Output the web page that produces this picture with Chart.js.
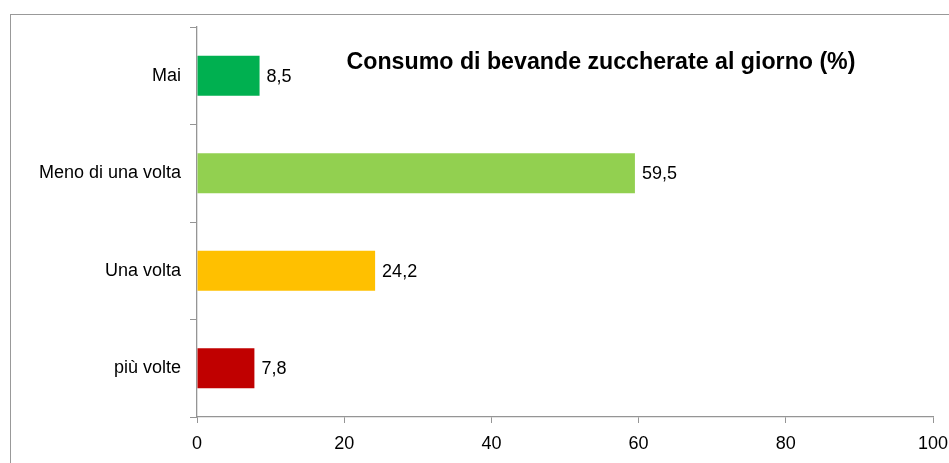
<!DOCTYPE html>
<html lang="it">
<head>
  <meta charset="UTF-8">
  <title>Consumo di bevande zuccherate al giorno</title>
  <script src="https://cdn.jsdelivr.net/npm/chart.js"></script>
  <style>
    html, body { margin: 0; padding: 0; background: #fff; overflow: hidden; }
    .wrap { position: relative; width: 949px; height: 463px; }
    .frame { position: absolute; left: 10px; top: 14px; width: 1000px; height: 600px; border: 1px solid #999; }
    canvas { position: absolute; left: 0; top: 0; }
  </style>
</head>
<body>
<div class="wrap">
  <div class="frame"></div>
  <canvas id="chart" width="949" height="463"></canvas>
</div>
<script>
const categories = ["Mai", "Meno di una volta", "Una volta", "più volte"];
const values = [8.5, 59.5, 24.2, 7.8];
const barColors = ["#00b050", "#92d050", "#ffc000", "#c00000"];
const titleText = "Consumo di bevande zuccherate al giorno (%)";

const FONT = "'Liberation Sans', Arial, sans-serif";
const AXIS = "#959595";

// etichette dei valori a destra delle barre + titolo dentro l'area
const labelsPlugin = {
  id: "valueLabels",
  afterDatasetsDraw(chart) {
    const ctx = chart.ctx;
    const meta = chart.getDatasetMeta(0);
    ctx.save();
    ctx.font = "18px " + FONT;
    ctx.fillStyle = "#000";
    ctx.textAlign = "left";
    ctx.textBaseline = "middle";
    meta.data.forEach((bar, i) => {
      ctx.fillText(values[i].toFixed(1).replace(".", ","), bar.x + 7, bar.y + 1);
    });
    const area = chart.chartArea;
    ctx.font = "bold 23.2px " + FONT;
    ctx.textAlign = "center";
    ctx.textBaseline = "alphabetic";
    ctx.fillText(titleText, area.left + 404, area.top + 42);
    ctx.restore();
  }
};

new Chart(document.getElementById("chart"), {
  type: "bar",
  data: {
    labels: categories,
    datasets: [{
      data: values,
      backgroundColor: barColors,
      barPercentage: 0.41,
      categoryPercentage: 1.0
    }]
  },
  options: {
    indexAxis: "y",
    responsive: false,
    animation: false,
    layout: { padding: { top: 27, right: 16, left: 0, bottom: 0 } },
    plugins: { legend: { display: false }, tooltip: { enabled: false } },
    scales: {
      x: {
        min: 0,
        max: 100,
        ticks: { stepSize: 20, color: "#000", font: { family: FONT, size: 18 }, padding: 10 },
        grid: { drawOnChartArea: false, tickLength: 6, color: AXIS },
        border: { color: AXIS, width: 1.3 },
        afterFit(scale) {
          scale.height = 46;
          scale.paddingLeft = 0;
          scale.paddingRight = 0;
        }
      },
      y: {
        ticks: { color: "#000", font: { family: FONT, size: 18 }, padding: 9 },
        grid: { drawOnChartArea: false, tickLength: 7, color: AXIS, offset: true },
        border: { color: AXIS, width: 1.3 },
        afterFit(scale) { scale.width = 197; }
      }
    }
  },
  plugins: [labelsPlugin]
});
</script>
</body>
</html>
